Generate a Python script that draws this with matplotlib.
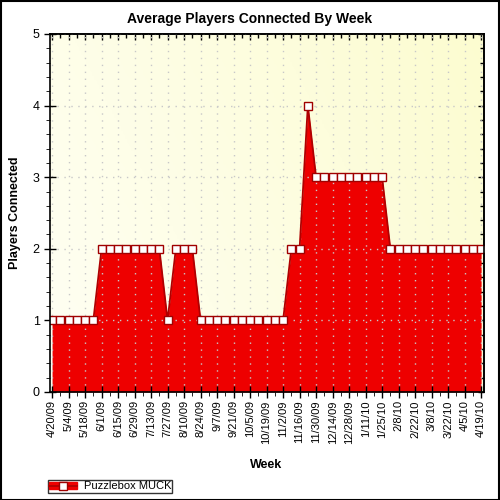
import matplotlib
matplotlib.use("Agg")
import matplotlib.pyplot as plt
import numpy as np
from matplotlib.ticker import MultipleLocator, FixedLocator, FixedFormatter, NullFormatter
from matplotlib.colors import LinearSegmentedColormap
from matplotlib.lines import Line2D
from matplotlib.patches import Rectangle

plt.rcParams['font.family'] = ['Liberation Sans', 'DejaVu Sans']

week_labels = ["4/20/09", "5/4/09", "5/18/09", "6/1/09", "6/15/09", "6/29/09",
               "7/13/09", "7/27/09", "8/10/09", "8/24/09", "9/7/09", "9/21/09",
               "10/5/09", "10/19/09", "11/2/09", "11/16/09", "11/30/09", "12/14/09",
               "12/28/09", "1/11/10", "1/25/10", "2/8/10", "2/22/10", "3/8/10",
               "3/22/10", "4/5/10", "4/19/10"]

players = [1, 1, 1, 1, 1, 1,
           2, 2, 2, 2, 2, 2, 2, 2,
           1,
           2, 2, 2,
           1, 1, 1, 1, 1, 1, 1, 1, 1, 1, 1,
           2, 2,
           4,
           3, 3, 3, 3, 3, 3, 3, 3, 3,
           2, 2, 2, 2, 2, 2, 2, 2, 2, 2, 2, 2]
series_name = "Puzzlebox MUCK"

x = np.arange(len(players))

fig = plt.figure(figsize=(5, 5), dpi=100)
fig.patch.set_facecolor('white')
ax = fig.add_axes([0.100, 0.216, 0.868, 0.716])

XMIN, XMAX = -0.25, 52.35

# background gradient
cmap = LinearSegmentedColormap.from_list('bg', ['#FFFFF4', '#FCFCD0'])
gx, gy = np.meshgrid(np.linspace(0, 1, 200), np.linspace(0, 1, 200))
grad = 0.7 * gx + 0.3 * gy
ax.imshow(grad, cmap=cmap, extent=[XMIN, XMAX, 0, 5], origin='lower',
          aspect='auto', zorder=0, interpolation='bilinear')

ax.fill_between(x, 0, players, color='#EE0000', zorder=2, linewidth=0)
ax.plot(x, players, color='#B00000', lw=1.3, zorder=3)
ax.plot(x, players, ls='none', marker='s', ms=5.6, mfc='white', mec='#A00000',
        mew=1, zorder=4)

ax.set_xlim(XMIN, XMAX)
ax.set_ylim(0, 5)

major_pos = list(range(0, len(players), 2))
ax.xaxis.set_major_locator(FixedLocator(major_pos))
ax.xaxis.set_major_formatter(FixedFormatter(week_labels))
ax.xaxis.set_minor_locator(MultipleLocator(1))
ax.yaxis.set_major_locator(MultipleLocator(1))
ax.yaxis.set_minor_locator(MultipleLocator(0.2))

ax.grid(True, which='major', color='#C8C8C8', ls=(0, (1, 4)), lw=1, zorder=1)

for lbl in ax.get_xticklabels():
    lbl.set_rotation(90)
ax.tick_params(axis='x', which='major', labelsize=8, direction='inout', length=8,
               width=1, pad=2)
ax.tick_params(axis='x', which='minor', direction='out', length=3)
ax.tick_params(axis='y', which='major', labelsize=9, direction='inout', length=9,
               width=1, pad=3)
ax.tick_params(axis='y', which='minor', direction='out', length=3)

# inward ticks on top and right
top = ax.secondary_xaxis('top')
top.xaxis.set_major_locator(FixedLocator(major_pos))
top.xaxis.set_minor_locator(MultipleLocator(1))
top.xaxis.set_major_formatter(NullFormatter())
top.tick_params(which='major', direction='in', length=4, width=1)
top.tick_params(which='minor', direction='in', length=3, width=1)
right = ax.secondary_yaxis('right')
right.yaxis.set_major_locator(MultipleLocator(1))
right.yaxis.set_minor_locator(MultipleLocator(0.2))
right.yaxis.set_major_formatter(NullFormatter())
right.tick_params(which='major', direction='in', length=4, width=1)
right.tick_params(which='minor', direction='in', length=3, width=1)
for sec in (top, right):
    for s in sec.spines.values():
        s.set_linewidth(1.2)

for s in ax.spines.values():
    s.set_linewidth(1.2)
    s.set_zorder(5)

ax.set_axisbelow(False)

fig.text(0.5, 0.963, "Average Players Connected By Week", ha='center', va='center',
         fontsize=10, fontweight='bold')
fig.text(0.532, 0.070, "Week", ha='center', va='center', fontsize=9, fontweight='bold')
fig.text(0.030, 0.574, "Players Connected", ha='center', va='center', rotation=90,
         fontsize=9, fontweight='bold')

handle = (Rectangle((0, 0), 1, 1, color='#EE0000'),
          Line2D([], [], color='#B00000', lw=1.3, marker='s', ms=5.6, mfc='white',
                 mec='#A00000'))
leg = fig.legend([handle], [series_name], loc='lower left',
                 bbox_to_anchor=(0.096, 0.015), fontsize=8, frameon=True,
                 fancybox=False, edgecolor='black', borderpad=0.1,
                 handlelength=2.5, handleheight=0.6, handletextpad=0.6,
                 borderaxespad=0)
leg.get_frame().set_linewidth(1)

# figure border
fig.add_artist(Rectangle((0.001, 0.001), 0.997, 0.997, transform=fig.transFigure,
                         fill=False, edgecolor='black', lw=1.5))

fig.savefig("out.png", dpi=100)
